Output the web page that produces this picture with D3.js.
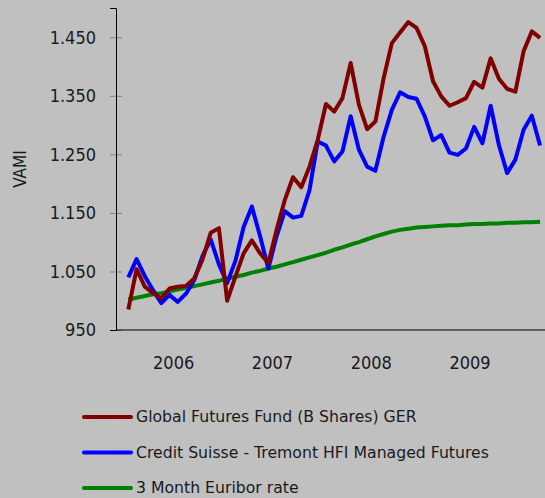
<!DOCTYPE html>
<html>
<head>
<meta charset="utf-8">
<script src="https://cdn.jsdelivr.net/npm/d3@7"></script>
<style>
  body { margin: 0; background: #c0c0c0; }
  svg { display: block; }
  text { font-family: "DejaVu Sans Condensed", "DejaVu Sans", sans-serif; fill: #1a1a1a; }
</style>
</head>
<body>
<div id="chart"></div>
<script>
// monthly VAMI values, Jan 2006 .. Mar 2010
const months = d3.range(51).map(i => new Date(2006, i, 1));

const globalFutures = [
    985, 1054, 1024, 1013, 1004, 1021, 1024, 1025, 1038, 1070, 1116, 1124,
    1000, 1041, 1081, 1103, 1081, 1064, 1121, 1172, 1211, 1194, 1229, 1275,
    1336, 1323, 1346, 1406, 1335, 1293, 1306, 1380, 1440, 1458, 1476, 1466,
    1435, 1375, 1349, 1333, 1339, 1346, 1374, 1364, 1414, 1379, 1362, 1357,
    1426, 1460, 1449
];
const creditSuisse = [
    1040, 1071, 1042, 1018, 996, 1010, 998, 1012, 1035, 1076, 1105, 1062,
    1030, 1068, 1126, 1161, 1110, 1055, 1110, 1153, 1142, 1145, 1189, 1272,
    1265, 1238, 1255, 1315, 1258, 1229, 1222, 1280, 1326, 1356, 1348, 1345,
    1315, 1274, 1283, 1253, 1249, 1260, 1297, 1269, 1333, 1266, 1218, 1241,
    1292, 1316, 1265
];
const euribor = [
    1002, 1005, 1008, 1011, 1013, 1016, 1019, 1022, 1025, 1028, 1031, 1034,
    1038, 1041, 1044, 1048, 1051, 1055, 1058, 1062, 1066, 1070, 1074, 1078,
    1082, 1087, 1091, 1096, 1100, 1105, 1110, 1114, 1118, 1121, 1123, 1125,
    1126, 1127, 1128, 1129, 1129, 1130, 1131, 1131, 1132, 1132, 1133, 1133,
    1134, 1134, 1135
];

const seriesNames = [
    "Global Futures Fund (B Shares) GER",
    "Credit Suisse - Tremont HFI Managed Futures",
    "3 Month Euribor rate"
];
const seriesColors = ["#800000", "#0000ff", "#008000"];
const years = [2006, 2007, 2008, 2009];
const yTicks = [950, 1050, 1150, 1250, 1350, 1450];

const width = 545;
const height = 498;
const margin = { top: 8, right: 0, bottom: 168, left: 116 };

const locale = d3.formatLocale({ decimal: ",", thousands: ".", grouping: [3], currency: ["", "€"] });
const fmt = locale.format(",d");

const svg = d3.select("#chart")
    .append("svg")
    .attr("width", width)
    .attr("height", height);

svg.append("rect")
    .attr("width", width)
    .attr("height", height)
    .attr("fill", "#c0c0c0");

// month index scale, half a band of padding on either side
const x = d3.scaleLinear()
    .domain([-1.5, 50.6])
    .range([margin.left, width - margin.right]);

const y = d3.scaleLinear()
    .domain([950, 1500])
    .range([height - margin.bottom, margin.top]);

// y axis
const yAxis = svg.append("g")
    .attr("transform", `translate(${margin.left},0)`)
    .call(d3.axisLeft(y).tickValues(yTicks).tickFormat(fmt).tickSize(6).tickPadding(14));
yAxis.select(".domain").attr("stroke", "#000");
yAxis.selectAll(".tick line")
    .attr("x1", 6)
    .attr("stroke", "#808080");
yAxis.selectAll(".tick text")
    .style("font-size", "18px")
    .attr("fill", "#1a1a1a");
yAxis.select(".domain").raise();

// x axis (year labels centred on each year)
svg.append("line")
    .attr("x1", margin.left)
    .attr("x2", width)
    .attr("y1", y(950))
    .attr("y2", y(950))
    .attr("stroke", "#000");

svg.append("g")
    .selectAll("text")
    .data(years)
    .join("text")
    .attr("x", d => x((d - 2006) * 12 + 5.5))
    .attr("y", y(950) + 33)
    .attr("dy", "0.35em")
    .attr("text-anchor", "middle")
    .style("font-size", "18px")
    .text(d => d);

svg.append("text")
    .attr("transform", `translate(20,${(y(950) + y(1500)) / 2}) rotate(-90)`)
    .attr("text-anchor", "middle")
    .attr("dy", "0.35em")
    .style("font-size", "17px")
    .text("VAMI");

// lines
const line = d3.line()
    .x((d, i) => x(i))
    .y(d => y(d));

const allSeries = [globalFutures, creditSuisse, euribor];
[2, 1, 0].forEach(k => {
    svg.append("path")
        .datum(allSeries[k])
        .attr("fill", "none")
        .attr("stroke", seriesColors[k])
        .attr("stroke-width", 4)
        .attr("stroke-linejoin", "round")
        .attr("d", line);
});

// legend
const legend = svg.append("g");
seriesNames.forEach((name, k) => {
    const ly = 417 + k * 35.5;
    legend.append("line")
        .attr("x1", 84)
        .attr("x2", 131)
        .attr("y1", ly)
        .attr("y2", ly)
        .attr("stroke", seriesColors[k])
        .attr("stroke-width", 4)
        .attr("stroke-linecap", "round");
    legend.append("text")
        .attr("x", 136)
        .attr("y", ly)
        .attr("dy", "0.35em")
        .style("font-family", "'DejaVu Sans', sans-serif")
        .style("font-size", "15.7px")
        .text(name);
});
</script>
</body>
</html>
